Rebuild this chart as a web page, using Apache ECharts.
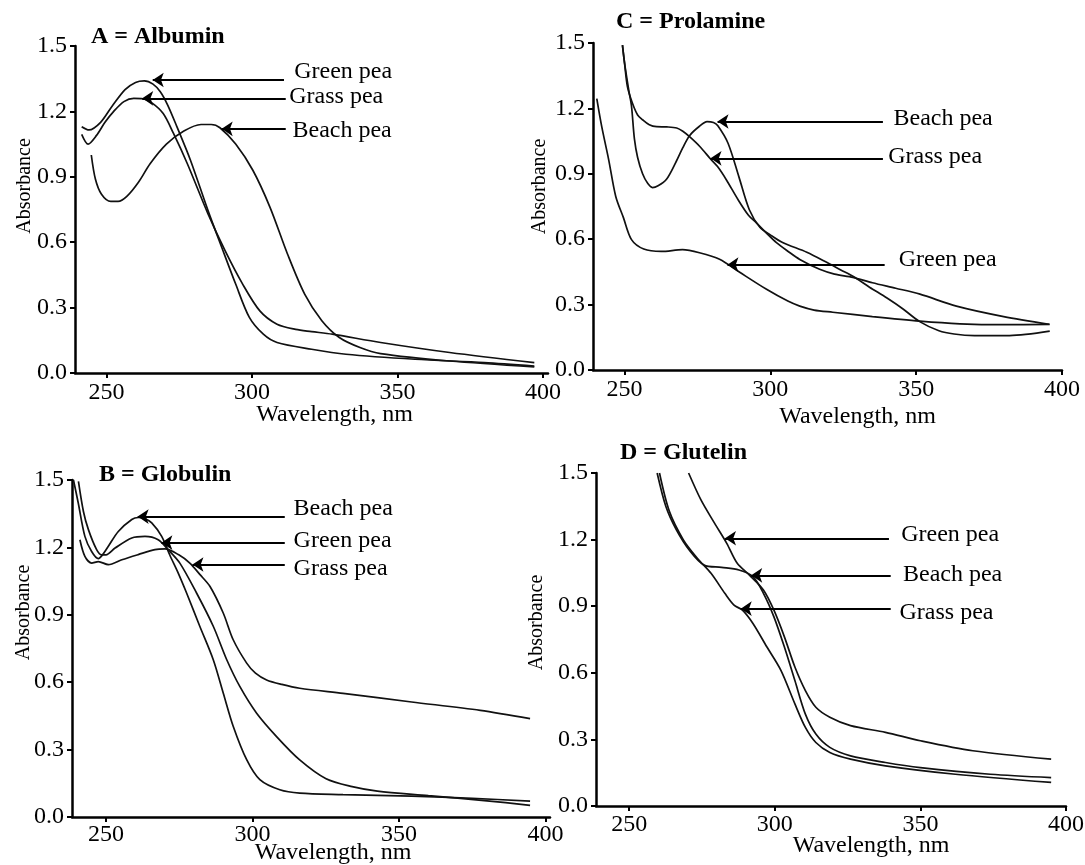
<!DOCTYPE html>
<html>
<head>
<meta charset="utf-8">
<script src="https://cdn.jsdelivr.net/npm/echarts@6/dist/echarts.min.js"></script>
<style>
  html, body { margin: 0; padding: 0; background: #fff; }
  #chart { width: 1085px; height: 865px; }
</style>
</head>
<body>
<div id="chart"></div>
<script>
// tick labels
var wavelengthTicks = [250, 300, 350, 400];

// A = Albumin  [wavelength nm, absorbance]
var albuminGreen = [[241.5,1.13],[244,1.115],[248,1.15],[252,1.225],[256.4,1.30],[260,1.333],[263,1.34],[266,1.325],[268.5,1.29],[271,1.23],[274.2,1.13],[278.9,0.975],[284.9,0.745],[289.6,0.577],[294.4,0.408],[299.1,0.255],[303.9,0.178],[308.6,0.14],[320.5,0.109],[332.3,0.086],[356,0.063],[379.8,0.048],[397,0.032]];
var albuminGrass = [[241.5,1.095],[243.7,1.05],[246.6,1.09],[249.5,1.15],[252.5,1.20],[256,1.245],[259.4,1.26],[262.5,1.258],[265.5,1.24],[269.5,1.19],[273,1.10],[277.8,0.96],[284.9,0.73],[290.8,0.56],[296.7,0.41],[302.7,0.285],[308.6,0.224],[315,0.20],[320.5,0.19],[327.6,0.178],[344.2,0.14],[367.9,0.094],[397,0.048]];
var albuminBeach = [[244.8,1.0],[246.2,0.89],[248.3,0.82],[251.5,0.787],[254,0.787],[257,0.81],[261,0.875],[265,0.96],[270.6,1.05],[276.6,1.11],[282.5,1.14],[286,1.14],[289,1.125],[294.4,1.05],[300.3,0.93],[306.2,0.76],[312.2,0.546],[318.1,0.362],[324,0.24],[330,0.163],[337.1,0.117],[344.2,0.089],[367.9,0.055],[397,0.028]];

// B = Globulin
var globulinBeach = [[238.9,1.50],[240.5,1.40],[242.8,1.249],[245.1,1.182],[247.4,1.15],[249,1.17],[250.8,1.205],[254.2,1.271],[258.8,1.324],[261,1.333],[263,1.33],[265.6,1.309],[269,1.249],[271.8,1.165],[274.5,1.09],[277.5,0.997],[282,0.849],[286.6,0.70],[290,0.552],[293.4,0.404],[298,0.255],[302.5,0.166],[309.3,0.121],[316.1,0.106],[330.9,0.10],[354.3,0.093],[375,0.083],[394.7,0.071]];
var globulinGreen = [[240.6,1.494],[242.3,1.36],[244,1.279],[246.8,1.19],[248.5,1.167],[250,1.167],[253.1,1.197],[258.8,1.242],[263.3,1.249],[267.8,1.234],[271.2,1.19],[275.2,1.13],[280.9,0.997],[286.6,0.849],[291.2,0.70],[295.7,0.58],[301.4,0.462],[308.2,0.358],[316.1,0.254],[325.1,0.17],[334,0.135],[342.6,0.115],[360,0.095],[380,0.072],[394.7,0.052]];
var globulinGrass = [[241.1,1.234],[242.8,1.16],[245.1,1.13],[247.4,1.137],[250.8,1.123],[255.4,1.145],[261,1.168],[266.7,1.19],[270.1,1.193],[274.7,1.168],[278.6,1.13],[282,1.08],[285.5,1.026],[290,0.908],[293.4,0.789],[298,0.685],[301,0.64],[304.8,0.61],[310,0.59],[316.1,0.573],[330.9,0.55],[354.3,0.512],[377.7,0.475],[394.7,0.438]];

// C = Prolamine
var prolamineBeach = [[249.3,1.49],[250,1.41],[251.5,1.28],[252.4,1.21],[253.4,1.06],[254.5,0.975],[256.2,0.90],[258,0.855],[259.6,0.837],[261.5,0.845],[264.4,0.875],[267.5,0.95],[270,1.02],[272.3,1.075],[275.7,1.118],[278.3,1.139],[280.5,1.135],[282,1.12],[285.5,1.04],[289.2,0.887],[292.8,0.735],[296.4,0.655],[300,0.62],[304.2,0.585],[312.5,0.54],[319.3,0.494],[324,0.46],[328.3,0.43],[334,0.38],[340,0.33],[345.5,0.28],[351.2,0.222],[357.8,0.18],[363,0.165],[370,0.158],[382,0.158],[395.8,0.178]];
var prolamineGrass = [[249.3,1.49],[250,1.41],[251,1.30],[252.7,1.225],[254.5,1.17],[256.2,1.148],[258.5,1.125],[261,1.116],[264.5,1.115],[267.9,1.11],[270,1.095],[272.3,1.07],[275.9,1.024],[279.5,0.968],[281.9,0.933],[284.9,0.873],[289,0.78],[292.5,0.71],[295.2,0.675],[298.5,0.63],[302.1,0.584],[306,0.545],[310.1,0.507],[316.9,0.462],[322,0.44],[328.3,0.425],[335,0.40],[343,0.375],[351.3,0.348],[363.8,0.293],[380,0.245],[395.6,0.21]];
var prolamineGreen = [[240.5,1.245],[242.2,1.116],[244.6,0.963],[247,0.796],[249.6,0.70],[252.4,0.598],[256.6,0.555],[262.6,0.544],[269.9,0.552],[275.7,0.538],[282.6,0.508],[289.5,0.448],[298.7,0.37],[306,0.316],[310.1,0.293],[315,0.275],[321.4,0.265],[335,0.245],[351.3,0.224],[365,0.212],[380,0.208],[395.8,0.209]];

// D = Glutelin
var glutelinGreen = [[270.4,1.5],[274.6,1.38],[279.3,1.274],[283.5,1.183],[287.1,1.093],[291.3,1.04],[296.1,0.973],[299.7,0.882],[303.3,0.762],[306.9,0.626],[310.5,0.52],[314.1,0.445],[318.9,0.40],[326,0.362],[338,0.332],[350,0.294],[368,0.249],[394.9,0.211]];
var glutelinBeach = [[259.6,1.5],[262.6,1.349],[266.2,1.244],[271,1.146],[275.7,1.085],[281.7,1.075],[287.7,1.063],[292.5,1.033],[296.1,0.958],[299.7,0.852],[303.3,0.716],[306.9,0.565],[310.5,0.414],[314.1,0.324],[318.9,0.264],[326,0.226],[338,0.196],[350,0.173],[374,0.143],[394.9,0.128]];
var glutelinGrass = [[260.4,1.5],[263.8,1.327],[268.6,1.199],[273.4,1.116],[278.1,1.048],[282.9,0.957],[286,0.905],[288.9,0.882],[292.5,0.822],[297.3,0.716],[302.1,0.611],[306.9,0.46],[310.5,0.354],[314.1,0.286],[318.9,0.241],[326,0.211],[338,0.181],[362,0.143],[394.9,0.106]];

// callouts: label text, where the label sits, arrow [from x, to x, y]
var albuminNames = ['Green pea', 'Grass pea', 'Beach pea'];
var albuminTextAt = [[314.5,1.38],[312.8,1.267],[313.9,1.113]];
var albuminArrows = [[311,265.9,1.344],[311.6,262.3,1.26],[311.6,289.6,1.12]];

var globulinNames = ['Beach pea', 'Green pea', 'Grass pea'];
var globulinTextAt = [[314,1.371],[314,1.228],[314,1.107]];
var globulinArrows = [[311,260.8,1.337],[311,268.9,1.221],[311,279.5,1.124]];

var prolamineNames = ['Beach pea', 'Grass pea', 'Green pea'];
var prolamineTextAt = [[342.2,1.154],[340.4,0.979],[344,0.506]];
var prolamineArrows = [[338.6,281.9,1.14],[338.6,279.5,0.971],[339.2,285.3,0.483]];

var glutelinNames = ['Green pea', 'Beach pea', 'Grass pea'];
var glutelinTextAt = [[343.4,1.221],[344,1.043],[342.8,0.87]];
var glutelinArrows = [[339.2,282.9,1.206],[339.8,291.9,1.039],[339.8,288.3,0.889]];

var serif = '"Liberation Serif", "Times New Roman", serif';
var ink = '#000';

var panels = [
  { title: 'A = Albumin', titleAt: [91, 25], grid: { left: 75, top: 46, width: 473, height: 327 },
    xRange: [239.2, 401.7], yGap: 40, yShift: 47, xGap: 30, xShift: 46, xMargin: 8,
    curves: [albuminGreen, albuminGrass, albuminBeach], names: albuminNames, textAt: albuminTextAt, arrows: albuminArrows },
  { title: 'C = Prolamine', titleAt: [616, 10], grid: { left: 593, top: 43, width: 469, height: 327 },
    xRange: [239.2, 400], yGap: 43, yShift: 40, xGap: 35, xShift: 60, xMargin: 8,
    curves: [prolamineBeach, prolamineGrass, prolamineGreen], names: prolamineNames, textAt: prolamineTextAt, arrows: prolamineArrows },
  { title: 'B = Globulin', titleAt: [99, 463], grid: { left: 72, top: 480, width: 478, height: 337 },
    xRange: [238.4, 401.5], yGap: 38, yShift: 72, xGap: 24, xShift: 44, xMargin: 6,
    curves: [globulinBeach, globulinGreen, globulinGrass], names: globulinNames, textAt: globulinTextAt, arrows: globulinArrows },
  { title: 'D = Glutelin', titleAt: [620, 441], grid: { left: 596, top: 473, width: 470, height: 333 },
    xRange: [238.6, 400], yGap: 49, yShift: 34, xGap: 28, xShift: 80, xMargin: 7,
    curves: [glutelinGreen, glutelinBeach, glutelinGrass], names: glutelinNames, textAt: glutelinTextAt, arrows: glutelinArrows }
];

var chart = echarts.init(document.getElementById('chart'));

var titles = [], grids = [], xAxes = [], yAxes = [], series = [];
panels.forEach(function (p, i) {
  titles.push({
    text: p.title, left: p.titleAt[0], top: p.titleAt[1], padding: 0,
    textStyle: { fontFamily: serif, fontWeight: 'bold', fontSize: 24, color: '#000' }
  });
  grids.push(Object.assign({ containLabel: false, outerBoundsMode: 'none' }, p.grid));
  xAxes.push({
    type: 'value', gridIndex: i, min: p.xRange[0], max: p.xRange[1],
    name: 'Wavelength, nm', nameLocation: 'middle', nameGap: p.xGap, nameMoveOverlap: false,
    nameTextStyle: { fontFamily: serif, fontSize: 24, color: ink, padding: [0, 0, 0, p.xShift] },
    axisLine: { show: true, lineStyle: { color: '#000', width: 2.5 } },
    axisTick: { show: true, length: 5, customValues: wavelengthTicks, lineStyle: { color: '#000', width: 2 } },
    axisLabel: { customValues: wavelengthTicks, margin: p.xMargin, fontFamily: serif, fontSize: 24, color: ink },
    splitLine: { show: false }
  });
  yAxes.push({
    type: 'value', gridIndex: i, min: 0, max: 1.5, interval: 0.3,
    name: 'Absorbance', nameLocation: 'middle', nameGap: p.yGap, nameRotate: 90, nameMoveOverlap: false,
    nameTextStyle: { fontFamily: serif, fontSize: 20, color: ink, padding: [0, 0, 0, p.yShift] },
    axisLine: { show: true, lineStyle: { color: '#000', width: 2.5 } },
    axisTick: { show: true, length: 5, lineStyle: { color: '#000', width: 2 } },
    axisLabel: { margin: 8, fontFamily: serif, fontSize: 24, color: ink,
      formatter: function (v) { return v.toFixed(1); } },
    splitLine: { show: false }
  });
  p.curves.forEach(function (c) {
    series.push({
      type: 'line', xAxisIndex: i, yAxisIndex: i, data: c,
      symbol: 'none', smooth: 0.3,
      lineStyle: { color: '#111', width: 1.7 }, animation: false, silent: true
    });
  });
  // callout labels and their arrows
  series.push({
    type: 'scatter', xAxisIndex: i, yAxisIndex: i, symbolSize: 0.1,
    itemStyle: { color: '#fff', opacity: 1 }, animation: false, silent: true,
    data: p.names.map(function (n, k) { return { name: n, value: p.textAt[k] }; }),
    label: { show: true, position: 'right', distance: 0, formatter: '{b}',
      fontFamily: serif, fontSize: 24, color: '#000', opacity: 1, textBorderWidth: 0 },
    markLine: {
      silent: true, animation: false, symbol: ['none', 'arrow'], symbolSize: 11,
      label: { show: false },
      lineStyle: { color: '#000', width: 2, type: 'solid', opacity: 1 },
      data: p.arrows.map(function (a) {
        return [{ coord: [a[0], a[2]] }, { coord: [a[1], a[2]] }];
      })
    }
  });
});

chart.setOption({
  backgroundColor: '#fff',
  animation: false,
  title: titles,
  grid: grids,
  xAxis: xAxes,
  yAxis: yAxes,
  series: series
});
window.addEventListener('resize', function () { chart.resize(); });
</script>
</body>
</html>
